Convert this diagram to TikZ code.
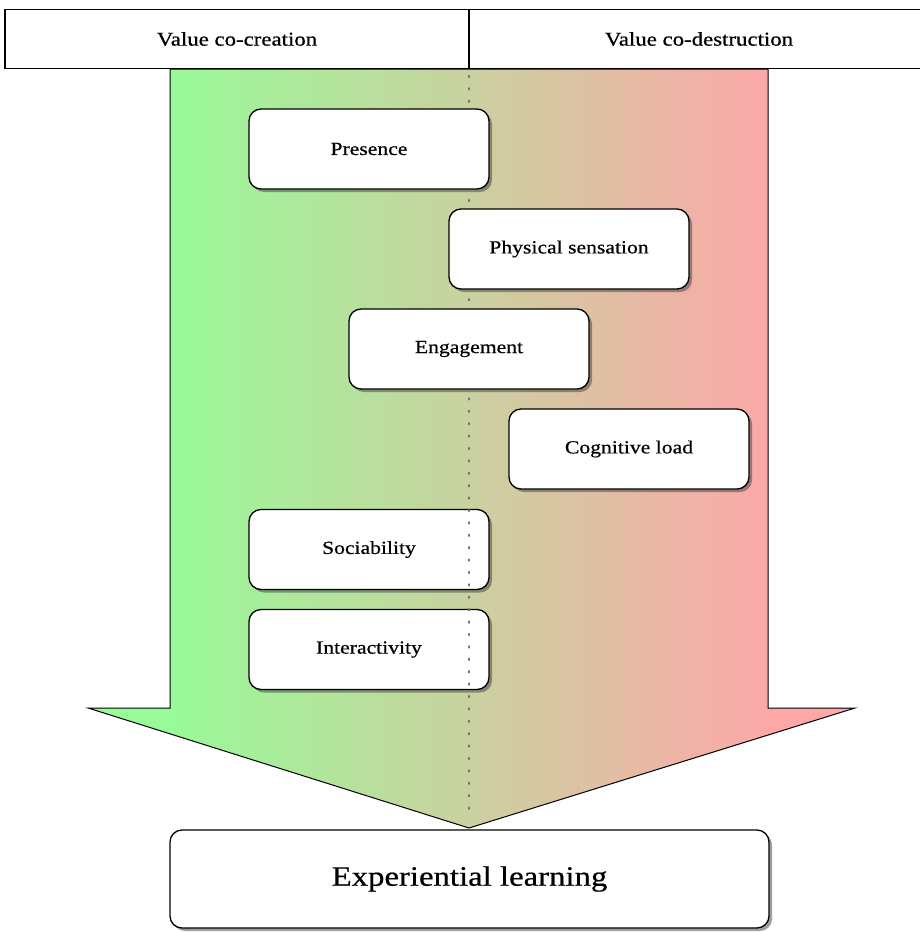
\documentclass[tikz,border=0pt]{standalone}
\usepackage{fontspec}
\setmainfont{Liberation Serif}[FakeStretch=1.17, FakeBold=0.6]
\usetikzlibrary{shadows}
\definecolor{cgreen}{RGB}{152,250,152}
\definecolor{cpink}{RGB}{252,168,168}
\definecolor{dotgray}{RGB}{110,110,110}
\begin{document}
\begin{tikzpicture}[x=1pt,y=-1pt,
  card/.style={draw=black, line width=1.3pt, rounded corners=12pt, fill=white,
    minimum width=240pt, minimum height=80pt, inner sep=0pt,
    font=\fontsize{18.5}{22}\selectfont,
    drop shadow={shadow xshift=3pt, shadow yshift=-3pt, opacity=0.5, fill=black!75}},
  hdr/.style={draw=black, line width=1.2pt, fill=white, minimum height=59pt, inner sep=0pt,
    font=\fontsize{19.5}{23}\selectfont},
  bigcard/.style={card, minimum width=599pt, minimum height=98pt, font=\fontsize{28}{32}\selectfont},
  outline/.style={draw=black, line width=1pt},
  divider/.style={draw=dotgray, line width=2.6pt, line cap=round, dash pattern=on 1pt off 11.4pt}
]
\useasboundingbox (0,0) rectangle (919,932);
% big arrow
\def\arrowpath{(170,69) -- (768,69) -- (768,708) -- (855,708) -- (469,828) -- (88,708) -- (170,708) -- cycle}
\begin{scope}
  \clip \arrowpath;
  \fill[cgreen] (80,60) rectangle (170.5,840);
  \fill[cpink] (767.5,60) rectangle (870,840);
  \shade[left color=cgreen, right color=cpink] (170,60) rectangle (768,840);
\end{scope}
\draw[outline] \arrowpath;
% lower boxes (divider shows on top of them)
\node[card] (soc) at (369,549.5) {Sociability};
\node[card] (int) at (369,649.5) {Interactivity};
% dotted divider
\coordinate (dtop) at (469,76);
\coordinate (dbot) at (469,816);
\draw[divider] (dtop) -- (dbot);
% upper boxes
\node[card] (pres) at (369,149) {Presence};
\node[card] (phys) at (569,249) {Physical sensation};
\node[card] (eng) at (469,349) {Engagement};
\node[card] (cog) at (629,449) {Cognitive load};
% header
\node[hdr, minimum width=464pt] (hl) at (237,39) {Value co-creation};
\node[hdr, minimum width=460pt] (hr) at (699,39) {Value co-destruction};
% bottom box
\node[bigcard] (exp) at (469.5,879) {Experiential learning};
\end{tikzpicture}
\end{document}
